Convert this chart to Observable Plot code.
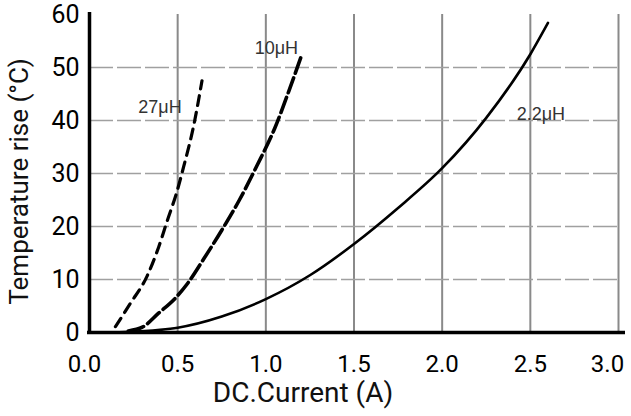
<!DOCTYPE html>
<html>
<head>
<meta charset="utf-8">
<script src="https://cdn.jsdelivr.net/npm/d3@7"></script>
<script src="https://cdn.jsdelivr.net/npm/@observablehq/plot@0.6"></script>
<style>
  html, body { margin: 0; padding: 0; background: #fff; }
</style>
</head>
<body>
<div id="chart"></div>
<script>
// 2.2 µH (solid)
const i22 = [0.03, 0.2, 0.4, 0.5, 0.75, 1.0, 1.25, 1.5, 1.75, 2.0, 2.25, 2.5, 2.6];
const t22 = [0, 0.1, 0.5, 0.9, 3.0, 6.3, 10.8, 16.7, 23.5, 31, 40.5, 52.5, 58.4];
// 10 µH (dashed)
const i10 = [0.22, 0.3, 0.39, 0.49, 0.555, 0.65, 0.75, 0.85, 0.95, 1.05, 1.13, 1.206];
const t10 = [0.3, 1, 3.6, 6.6, 9.2, 14, 19.3, 25, 31.5, 38.5, 45.5, 52.6];
// 27 µH (dashed)
const i27 = [0.147, 0.232, 0.326, 0.392, 0.44, 0.496, 0.534, 0.59, 0.638];
const t27 = [1.1, 5.5, 10.6, 16.1, 21, 26.6, 31.3, 38.9, 47.5];

const labels = ["27μH", "10μH", "2.2μH"];
const labelX = [0.40, 1.06, 2.56];
const labelY = [42.5, 53.6, 41.1];

const xTicksMid = [0.5, 1.0, 1.5, 2.0, 2.5];
const xTickFirst = [0.0];
const xTickLast = [3.0];
const yTicks = [0, 10, 20, 30, 40, 50, 60];
const xGrid = [0.5, 1.0, 1.5, 2.0, 2.5, 3.0];
const yGrid = [10, 20, 30, 40, 50];

const toRows = (xs, ys) => xs.map((x, k) => ({x, y: ys[k]}));
const s22 = toRows(i22, t22);
const s10 = toRows(i10, t10);
const s27 = toRows(i27, t27);
const lab = labels.map((t, k) => ({t, x: labelX[k], y: labelY[k]}));

const tickFont = "Roboto, 'DejaVu Sans', sans-serif";
const fmt = d3.format(".1f");
const xAxisOpts = {tickFormat: fmt, tickSize: 0, tickPadding: 22, fontSize: 24, label: null, fill: "#000"};

const chart = Plot.plot({
  width: 631,
  height: 416,
  marginLeft: 89,
  marginRight: 13,
  marginTop: 14,
  marginBottom: 84,
  style: {fontFamily: tickFont, color: "#111", background: "#fff"},
  x: {domain: [0, 3]},
  y: {domain: [0, 60]},
  marks: [
    Plot.gridX(xGrid, {stroke: "#8a8a8a", strokeOpacity: 1, strokeWidth: 2}),
    Plot.gridY(yGrid, {stroke: "#a0a0a0", strokeOpacity: 1, strokeWidth: 1.5, strokeDasharray: "24,4"}),
    Plot.line(s22, {x: "x", y: "y", curve: "monotone-x", stroke: "#000", strokeWidth: 2.6}),
    Plot.line(s10, {x: "x", y: "y", curve: "monotone-x", stroke: "#000", strokeWidth: 3.6, strokeDasharray: "16,5"}),
    Plot.line(s27, {x: "x", y: "y", curve: "monotone-x", stroke: "#000", strokeWidth: 3.2, strokeDasharray: "10,7"}),
    Plot.ruleX([0], {stroke: "#000", strokeWidth: 3.5, insetTop: -2, insetBottom: -2}),
    Plot.ruleY([0], {stroke: "#000", strokeWidth: 3.5, insetRight: -7, insetLeft: -2}),
    Plot.axisX({...xAxisOpts, ticks: xTicksMid}),
    Plot.axisX({...xAxisOpts, ticks: xTickFirst, dx: -5}),
    Plot.axisX({...xAxisOpts, ticks: xTickLast, dx: -11}),
    Plot.axisY({ticks: yTicks, tickSize: 0, tickPadding: 10, fontSize: 25, label: null, fill: "#000"}),
    Plot.text(lab, {x: "x", y: "y", text: "t", fontSize: 18, fill: "#333", fontFamily: "'Liberation Sans', Arial, sans-serif", style: "letter-spacing: 2.5px"}),
    Plot.text(["DC.Current (A)"], {frameAnchor: "bottom", textAnchor: "middle", dy: 69, dx: -51, fontSize: 28, fill: "#111", style: "letter-spacing: 1.2px"}),
    Plot.text(["Temperature rise (°C)"], {frameAnchor: "left", textAnchor: "middle", rotate: -90, dx: -70, dy: 8, fontSize: 26, fill: "#111", style: "letter-spacing: 0.6px"})
  ]
});
document.getElementById("chart").appendChild(chart);
</script>
</body>
</html>
